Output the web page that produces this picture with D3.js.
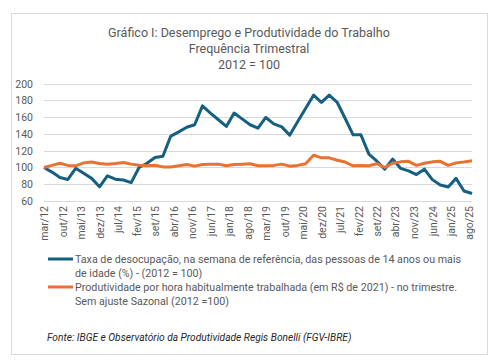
<!DOCTYPE html>
<html>
<head>
<meta charset="utf-8">
<script src="https://cdn.jsdelivr.net/npm/d3@7"></script>
<style>
  html, body { margin: 0; padding: 0; background: #fff; }
  #chart { width: 495px; height: 363px; }
  text { font-family: Roboto, "Noto Sans", sans-serif; fill: #595959; }
</style>
</head>
<body>
<div id="chart"></div>
<script>
// Chart data (quarterly, 2012 = 100)
const titleLines = ["Gráfico I: Desemprego e Produtividade do Trabalho", "Frequência Trimestral", "2012 = 100"];

// quarterly periods mar/12 .. set/25
const periods = d3.timeMonth.range(new Date(2012, 2, 1), new Date(2025, 9, 1), 3);

const desocupacao = [
  100, 94.5, 88, 85.7, 99, 93, 87, 77, 90, 86, 85, 82, 100, 105,
  112, 113.5, 137.5, 142.5, 148, 151, 173.5, 165, 157, 149, 165, 158, 151, 147,
  159.7, 152, 148.5, 138.6, 154.5, 170.4, 186.3, 177.6, 186.3, 177.6, 158.5, 139, 139,
  116, 107.5, 98, 110, 99, 96, 91.5, 98, 85.5, 79, 76.8, 87, 72, 69
];

const produtividade = [
  100, 102.5, 105, 102.5, 102, 105.5, 106.5, 104.8, 104, 104.8, 106, 104, 102.7, 102,
  102.7, 100.7, 100.7, 102, 103.6, 101.6, 103.6, 104, 104, 102, 103.6, 104, 104.5, 102,
  102, 102.5, 104, 101.6, 102.5, 104.5, 114.7, 111.5, 111.5, 108.7, 106.5, 102, 102.5,
  102, 104.5, 100, 105, 106.7, 107.3, 102.5, 105, 106.7, 107.3, 102.5, 105.5, 106.5, 108
];

const xTickLabels = ["mar/12", "out/12", "mai/13", "dez/13", "jul/14", "fev/15", "set/15", "abr/16",
  "nov/16", "jun/17", "jan/18", "ago/18", "mar/19", "out/19", "mai/20", "dez/20", "jul/21",
  "fev/22", "set/22", "abr/23", "nov/23", "jun/24", "jan/25", "ago/25"];

const yTicks = [60, 80, 100, 120, 140, 160, 180, 200];

const legendLabels = [
  ["Taxa de desocupação, na semana de referência, das pessoas de 14 anos ou mais", "de idade (%) - (2012 = 100)"],
  ["Produtividade por hora habitualmente trabalhada (em R$ de 2021) - no trimestre.", "Sem ajuste Sazonal (2012 =100)"]
];
const sourceText = "Fonte: IBGE e Observatório da Produtividade Regis Bonelli (FGV-IBRE)";

const colors = ["#156082", "#E97132"];

// month names to parse tick labels
const mesesPt = ["jan", "fev", "mar", "abr", "mai", "jun", "jul", "ago", "set", "out", "nov", "dez"];
const parseLabel = s => {
  const [m, y] = s.split("/");
  return new Date(2000 + +y, mesesPt.indexOf(m), 1);
};

const width = 495, height = 363;
const margin = { left: 44, right: 23, top: 83.7, bottom: 162 };

const svg = d3.select("#chart").append("svg")
  .attr("width", width)
  .attr("height", height);

// outer frame
svg.append("rect")
  .attr("x", 11.5).attr("y", 13.5)
  .attr("width", 476).attr("height", 341)
  .attr("fill", "#fff")
  .attr("stroke", "#d9d9d9");

// title
svg.append("g").selectAll("text")
  .data(titleLines)
  .join("text")
  .attr("x", 249)
  .attr("y", (d, i) => 37 + i * 16)
  .attr("text-anchor", "middle")
  .attr("font-size", "12.5px")
  .text(d => d);

// scales
const x = d3.scaleTime()
  .domain(d3.extent(periods))
  .range([margin.left, width - margin.right]);

const y = d3.scaleLinear()
  .domain([60, 200])
  .range([201, margin.top]);

// gridlines
svg.append("g")
  .selectAll("line")
  .data(yTicks)
  .join("line")
  .attr("x1", x.range()[0]).attr("x2", x.range()[1])
  .attr("y1", d => Math.round(y(d)) + 0.5).attr("y2", d => Math.round(y(d)) + 0.5)
  .attr("stroke", "#d9d9d9")
  .attr("stroke-width", 1);

// y axis labels
const yAxis = svg.append("g")
  .attr("transform", `translate(${margin.left - 11},0)`)
  .call(d3.axisLeft(y).tickValues(yTicks).tickSize(0).tickPadding(0));
yAxis.select(".domain").remove();
yAxis.selectAll("text")
  .attr("font-family", "Roboto, sans-serif")
  .attr("font-size", "10.5px")
  .attr("fill", "#595959");

// x axis labels (rotated)
const xAxis = svg.append("g")
  .attr("transform", "translate(0,206)")
  .call(d3.axisBottom(x)
    .tickValues(xTickLabels.map(parseLabel))
    .tickFormat((d, i) => xTickLabels[i])
    .tickSize(0));
xAxis.select(".domain").remove();
xAxis.selectAll("text")
  .attr("font-family", "Roboto, sans-serif")
  .attr("font-size", "10.5px")
  .attr("fill", "#595959")
  .attr("text-anchor", "end")
  .attr("transform", "rotate(-90)")
  .attr("x", 0)
  .attr("y", 0)
  .attr("dy", "0.35em");

// lines
const line = d3.line()
  .x((d, i) => x(periods[i]))
  .y(d => y(d));

[desocupacao, produtividade].forEach((serie, k) => {
  svg.append("path")
    .datum(serie)
    .attr("fill", "none")
    .attr("stroke", colors[k])
    .attr("stroke-width", 3)
    .attr("stroke-linejoin", "round")
    .attr("d", line);
});

// legend
const legend = svg.append("g");
legendLabels.forEach((lines, k) => {
  const ly = 259 + k * 28;
  legend.append("line")
    .attr("x1", 48).attr("x2", 73)
    .attr("y1", ly).attr("y2", ly)
    .attr("stroke", colors[k])
    .attr("stroke-width", 3);
  lines.forEach((t, j) => {
    legend.append("text")
      .attr("x", 75)
      .attr("y", ly + j * 14)
      .attr("dy", "0.35em")
      .attr("font-size", "10.7px")
      .text(t);
  });
});

// source note
svg.append("text")
  .attr("x", 47)
  .attr("y", 337)
  .attr("dy", "0.35em")
  .attr("font-size", "10.2px")
  .attr("font-style", "italic")
  .style("fill", "#262626")
  .text(sourceText);
</script>
</body>
</html>
